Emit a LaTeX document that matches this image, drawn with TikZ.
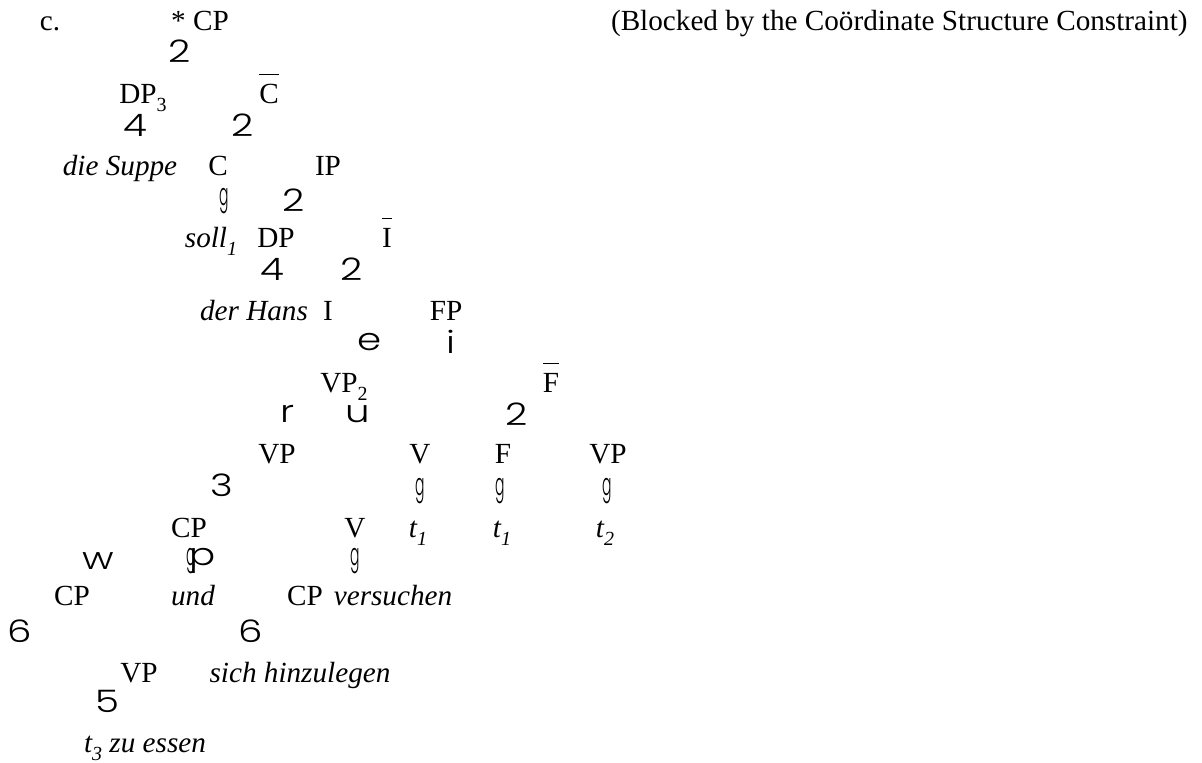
\documentclass[tikz,border=0pt]{standalone}
\usepackage{fontspec}
\setmainfont{Liberation Serif}
\newfontfamily\symfont{Poppins Light}
\tikzset{
  lab/.style={anchor=base,inner sep=0pt,font=\fontsize{14.6}{16}\selectfont},
  br/.style={anchor=center,inner sep=0pt,font=\fontsize{15.5}{16}\symfont,xscale=1.25},
  vb/.style={anchor=center,inner sep=0pt,font=\fontsize{15.5}{16}\symfont,xscale=0.45},
}
\newcommand{\barcat}[1]{$\overline{\mbox{\rule{0pt}{0.88em}#1}}$}
\newcommand{\sbs}[1]{\raisebox{-0.28em}{\fontsize{10}{11}\selectfont #1}}
\begin{document}
\begin{tikzpicture}[x=0.5pt,y=-0.5pt]
\useasboundingbox (0,0) rectangle (1202,762);
% row 1
\node[lab] (c) at (50,30) {c.};
\node[lab] (cp) at (200,30) {* CP};
\node[lab,anchor=base east] (note) at (1188,30) {(Blocked by the Coördinate Structure Constraint)};
\node[br] (b1) at (180,51) {2};
% row 2
\node[lab] (dp3) at (143,103) {DP\sbs{3}};
\node[lab] (cbar) at (269,103) {\barcat{C}};
\node[br] (b2) at (135,125) {4};
\node[br] (b3) at (243,125) {2};
% row 3
\node[lab] (suppe) at (120,175) {\itshape die Suppe};
\node[lab] (c0) at (218,175) {C};
\node[lab] (ip) at (328,175) {IP};
\node[vb] (b4) at (224,201) {g};
\node[br] (b5) at (294,200) {2};
% row 4
\node[lab] (soll) at (211,247) {\itshape soll\sbs{1}};
\node[lab] (dp) at (276,247) {DP};
\node[lab] (ibar) at (387,247) {\barcat{I}};
\node[br] (b6) at (272,269) {4};
\node[br] (b7) at (352,269) {2};
% row 5
\node[lab] (hans) at (254,320) {\itshape der Hans};
\node[lab] (i0) at (328,320) {I};
\node[lab] (fp) at (446,320) {FP};
\node[br] (b8) at (370,342) {e};
\node[br] (b9) at (451,342) {i};
% row 6
\node[lab] (vp2) at (344,392) {VP\sbs{2}};
\node[lab] (fbar) at (551,392) {\barcat{F}};
\node[br] (b10) at (288,414) {r};
\node[br] (b11) at (358,414) {u};
\node[br] (b12) at (517,414) {2};
% row 7
\node[lab] (vpa) at (277,463) {VP};
\node[lab] (v1) at (420,463) {V};
\node[lab] (f0) at (503,463) {F};
\node[lab] (vpb) at (608,463) {VP};
\node[br] (b13) at (222,485) {3};
\node[vb] (b14) at (420,491) {g};
\node[vb] (b15) at (500,491) {g};
\node[vb] (b16) at (607,491) {g};
% row 8
\node[lab] (cpa) at (189,537) {CP};
\node[lab] (v2) at (355,537) {V};
\node[lab] (t1a) at (418,537) {\itshape t\sbs{1}};
\node[lab] (t1b) at (502,537) {\itshape t\sbs{1}};
\node[lab] (t2) at (605,537) {\itshape t\sbs{2}};
\node[br] (b17) at (98,561) {w};
\node[vb] (b18) at (191,561) {g};
\node[br] (b19) at (203,561) {p};
\node[vb] (b20) at (355,561) {g};
% row 9
\node[lab] (cpb) at (72,605) {CP};
\node[lab] (und) at (193,605) {\itshape und};
\node[lab] (cpc) at (305,605) {CP};
\node[lab] (vers) at (393,605) {\itshape versuchen};
\node[br] (b21) at (20,631) {6};
\node[br] (b22) at (251,631) {6};
% row 10
\node[lab] (vp3) at (139,682) {VP};
\node[lab] (hinz) at (300,682) {\itshape sich hinzulegen};
\node[br] (b23) at (107,701) {5};
\node[lab] (essen) at (145,752) {\itshape t\sbs{3} zu essen};
\end{tikzpicture}
\end{document}
